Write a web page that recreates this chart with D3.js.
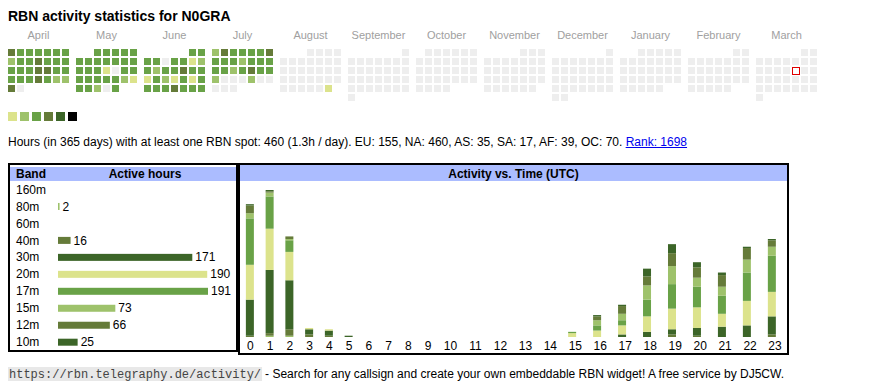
<!DOCTYPE html>
<html><head><meta charset="utf-8">
<script src="https://cdn.jsdelivr.net/npm/d3@7"></script>
<style>
html,body{margin:0;padding:0;background:#fff;}
svg{display:block;font-family:"Liberation Sans",Arial,sans-serif;}
</style></head><body>
<svg id="c" width="870" height="390"></svg>
<script>
// ---------- data ----------
const titleText = "RBN activity statistics for N0GRA";
const monthNames = ["April","May","June","July","August","September","October","November","December","January","February","March"];
const startDate = "2024-04-01";
const endDate = "2025-03-31";
const today = "2025-03-14";
// daily activity level (0 = no spot, 1..6) from the 1st of each month
const levelsApr = [4,3,3,3,3,3,3, 2,3,3,4,3,3,3, 3,3,3,4,4,3,3, 3,3,3,4,3,2,2, 4,0];
const levelsMay = [3,3,3,3,3, 3,3,3,3,3,3,3, 3,3,3,1,0,3,3, 3,3,3,3,3,2,1, 3,3,2,0,3];
const levelsJun = [3,3, 3,3,0,3,3,1,2, 3,2,3,3,4,3,3, 1,3,2,1,3,1,3, 3,3,3,4,3,3,3];
const levelsJul = [2,4,3,3,3,3,4, 3,3,3,2,3,3,3, 3,3,2,3,4,3,3, 2,0,0,0,2,0,0, 0,0,0];
const levelsAug = [0,0,0,0, 0,0,0,0,0,0,0, 0,0,0,0,0,0,0, 0,0,0,0,0,0,0, 0,0,0,0,0,1];
const legendLevels = [1,2,3,4,5,6];
const statsText = "Hours (in 365 days) with at least one RBN spot: 460 (1.3h / day). EU: 155, NA: 460, AS: 35, SA: 17, AF: 39, OC: 70. ";
const rankText = "Rank: 1698";
const bands = ["160m","80m","60m","40m","30m","20m","17m","15m","12m","10m"];
const bandHours = [0,2,0,16,171,190,191,73,66,25];
const hourLabels = ["0","1","2","3","4","5","6","7","8","9","10","11","12","13","14","15","16","17","18","19","20","21","22","23"];
const h160m = [0,0,0,0,0,0,0,0,0,0,0,0,0,0,0,0,0,0,0,0,0,0,0,0];
const h80m  = [0,1,1,0,0,0,0,0,0,0,0,0,0,0,0,0,0,0,0,0,0,0,0,0];
const h60m  = [0,0,0,0,0,0,0,0,0,0,0,0,0,0,0,0,0,0,0,0,0,0,0,0];
const h40m  = [1,2,5,2,1,0,0,0,0,0,0,0,0,0,0,0,0,0,0,2,1,0,0,2];
const h30m  = [28,49,38,4,4,1,0,0,0,0,0,0,0,0,0,0,0,2,4,4,6,8,9,14];
const h20m  = [27,32,22,1,1,0,0,0,0,0,0,0,0,0,0,3,5,7,12,16,16,10,19,19];
const h17m  = [36,25,9,0,0,0,0,0,0,0,0,0,0,0,0,1,4,4,13,19,16,14,22,28];
const h15m  = [4,3,1,0,0,0,0,0,0,0,0,0,0,0,0,0,4,5,11,14,7,7,10,7];
const h12m  = [6,1,2,0,0,0,0,0,0,0,0,0,0,0,0,0,3,6,7,10,8,9,9,5];
const h10m  = [1,1,0,0,0,0,0,0,0,0,0,0,0,0,0,0,1,1,6,7,4,2,1,1];
const footerUrl = "https://rbn.telegraphy.de/activity/";
const footerText = "- Search for any callsign and create your own embeddable RBN widget! A free service by DJ5CW.";

// ---------- styles ----------
const palette = ["#eeeeee","#dce38c","#9ec26b","#69a247","#657b39","#3c6528","#000000"];
const bandColor = {"160m":palette[1],"80m":palette[2],"60m":palette[3],"40m":palette[4],"30m":palette[5],
  "20m":palette[1],"17m":palette[3],"15m":palette[2],"12m":palette[4],"10m":palette[5]};
const hourly = {"160m":h160m,"80m":h80m,"60m":h60m,"40m":h40m,"30m":h30m,"20m":h20m,"17m":h17m,"15m":h15m,"12m":h12m,"10m":h10m};
const levelsByMonth = [levelsApr, levelsMay, levelsJun, levelsJul, levelsAug];

const svg = d3.select("#c");
const parse = d3.timeParse("%Y-%m-%d");

// title
svg.append("text").attr("x",8).attr("y",21).attr("font-size",14).attr("font-weight","bold").text(titleText);

// ---------- calendar ----------
const calX0 = 8, calY0 = 49, monthStep = 68, cellStep = 9, cellSize = 7;
svg.append("g").selectAll("text").data(monthNames).join("text")
  .attr("x",(d,i)=>calX0 + i*monthStep + 30.5).attr("y",39)
  .attr("text-anchor","middle").attr("font-size",11).attr("fill","#a0a0a0").text(d=>d);

const s = parse(startDate), e = parse(endDate);
const days = d3.timeDays(s, d3.timeDay.offset(e,1));
const todayD = parse(today);
const cells = days.map(d=>{
  const mi = (d.getFullYear()-s.getFullYear())*12 + d.getMonth() - s.getMonth();
  const first = new Date(d.getFullYear(), d.getMonth(), 1);
  const fc = (first.getDay()+6)%7;
  const col = (d.getDay()+6)%7;
  const row = Math.floor((d.getDate()-1+fc)/7);
  const arr = levelsByMonth[mi];
  const lvl = arr ? (arr[d.getDate()-1]||0) : 0;
  return {d, mi, col, row, lvl};
});
svg.append("g").selectAll("rect").data(cells).join("rect")
  .attr("x",c=>calX0 + c.mi*monthStep + c.col*cellStep)
  .attr("y",c=>calY0 + c.row*cellStep)
  .attr("width",cellSize).attr("height",cellSize)
  .attr("fill",c=>palette[c.lvl]);
const tc = cells.find(c=>+c.d===+todayD);
if (tc) {
  svg.append("rect")
    .attr("x",calX0 + tc.mi*monthStep + tc.col*cellStep + 0.5)
    .attr("y",calY0 + tc.row*cellStep + 0.5)
    .attr("width",cellSize).attr("height",cellSize)
    .attr("fill","#fff").attr("stroke","#e00000").attr("stroke-width",1);
}
// legend
svg.append("g").selectAll("rect").data(legendLevels).join("rect")
  .attr("x",(d,i)=>8+i*12).attr("y",112).attr("width",9).attr("height",9)
  .attr("fill",d=>palette[d]);

// stats line
const st = svg.append("text").attr("x",8).attr("y",146).attr("font-size",12);
st.append("tspan").text(statsText);
const rk = st.append("tspan").attr("fill","#0000ee").text(rankText);
{
  const full = st.node().getComputedTextLength();
  const rw = rk.node().getComputedTextLength();
  svg.append("line").attr("x1",8+full-rw).attr("x2",8+full).attr("y1",147.5).attr("y2",147.5)
    .attr("stroke","#0000ee").attr("stroke-width",1);
}

// ---------- band table ----------
const lb = {x:8, y:163, w:231, h:189};
svg.append("rect").attr("x",lb.x+1).attr("y",lb.y+1).attr("width",lb.w-2).attr("height",lb.h-2)
  .attr("fill","#fff").attr("stroke","#000").attr("stroke-width",2);
svg.append("rect").attr("x",10).attr("y",167).attr("width",226).attr("height",14).attr("fill","#abbcff");
svg.append("text").attr("x",16).attr("y",178).attr("font-size",12).attr("font-weight","bold").text("Band");
svg.append("text").attr("x",145).attr("y",178).attr("font-size",12).attr("font-weight","bold").attr("text-anchor","middle").text("Active hours");

const rowY = d3.scalePoint().domain(bands).range([189.3, 342]);
const xh = d3.scaleLinear().domain([0, d3.max(bandHours)]).range([58, 208]);
const tb = svg.append("g");
tb.selectAll("text.band").data(bands).join("text").attr("class","band")
  .attr("x",16).attr("y",d=>rowY(d)+4.3).attr("font-size",12).text(d=>d);
const bandRows = bands.map((b,i)=>({b, v:bandHours[i]})).filter(r=>r.v>0);
tb.selectAll("rect").data(bandRows).join("rect")
  .attr("x",xh(0)).attr("y",r=>rowY(r.b)-3.3).attr("height",7)
  .attr("width",r=>Math.max(1, xh(r.v)-xh(0))).attr("fill",r=>bandColor[r.b]);
tb.selectAll("text.val").data(bandRows).join("text").attr("class","val")
  .attr("x",r=>Math.max(xh(0)+1, xh(r.v))+3).attr("y",r=>rowY(r.b)+4.3).attr("font-size",12).text(r=>r.v);

// ---------- activity vs time ----------
const rb = {x:238, y:163, w:551, h:192};
svg.append("rect").attr("x",rb.x+1).attr("y",rb.y+1).attr("width",rb.w-2).attr("height",rb.h-2)
  .attr("fill","#fff").attr("stroke","#000").attr("stroke-width",2);
svg.append("rect").attr("x",240).attr("y",165).attr("width",547).attr("height",16).attr("fill","#abbcff");
svg.append("text").attr("x",513.5).attr("y",178).attr("font-size",12).attr("font-weight","bold").attr("text-anchor","middle").text("Activity vs. Time (UTC)");
// shared border between the boxes
svg.append("line").attr("x1",238).attr("x2",238).attr("y1",163).attr("y2",352).attr("stroke","#000").attr("stroke-width",4);

// column widths follow label widths (table layout)
const colWeight = hourLabels.map(l=>l.length===1 ? 19.7 : 24.9);
const totalW = d3.sum(colWeight);
const innerX0 = 240, innerW = 547;
const cum = d3.cumsum(colWeight);
const colCenter = hourLabels.map((l,i)=>innerX0 + (cum[i]-colWeight[i]/2)/totalW*innerW);
const x = d3.scaleOrdinal().domain(hourLabels).range(colCenter);

const table = hourLabels.map((h,i)=>{
  const o = {hour:h};
  bands.forEach(b=>o[b]=hourly[b][i]);
  return o;
});
const series = d3.stack().keys(bands)(table);
const totals = table.map(r=>d3.sum(bands,b=>r[b]));
const y = d3.scaleLinear().domain([0, d3.max(totals)]).range([337, 190]);
const barW = 8;
const barX = h => x(h) - Math.max(barW, h.length*6.67)/2;
svg.append("g").selectAll("g").data(series).join("g")
  .attr("fill",sr=>bandColor[sr.key])
  .selectAll("rect").data(sr=>sr.filter(p=>p[1]-p[0]>0)).join("rect")
  .attr("x",p=>barX(p.data.hour)).attr("width",barW)
  .attr("y",p=>y(p[1])).attr("height",p=>y(p[0])-y(p[1]));

const ax = d3.axisBottom(x).tickSize(0).tickPadding(0);
const axg = svg.append("g").attr("transform","translate(0,341)").call(ax);
axg.select(".domain").remove();
axg.selectAll("text").attr("font-size",12).attr("fill","#000").attr("dy","0.71em")
  .attr("font-family","Liberation Sans, Arial, sans-serif");

// ---------- footer ----------
const fm = svg.append("text").attr("x",9).attr("y",378).attr("font-size",12)
  .attr("font-family","Liberation Mono, Courier New, monospace").attr("fill","#444").text(footerUrl);
const fmW = fm.node().getComputedTextLength();
svg.insert("rect","text").attr("x",8).attr("y",367).attr("width",fmW+2).attr("height",14).attr("fill","#e8e8e8");
svg.append("text").attr("x",9+fmW+4).attr("y",378).attr("font-size",12).attr("fill","#000").text(footerText);
</script>
</body></html>
